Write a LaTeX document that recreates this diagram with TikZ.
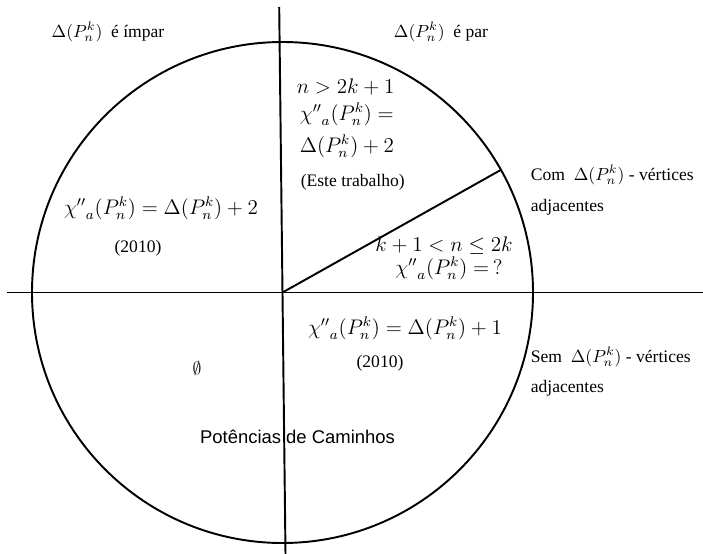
\documentclass[tikz,border=0pt]{standalone}
\usepackage{fontspec}
\setmainfont{Liberation Serif}
\newfontfamily\sansfont{Liberation Sans}
\usepackage{amsmath}
\usepackage{amssymb}
\usepackage{tikz}
\usetikzlibrary{positioning}

\newcommand{\chia}{{\chi''}_a(P_n^k)}
\newcommand{\DP}{\Delta(P_n^k)}

\begin{document}
\begin{tikzpicture}[x=0.02cm,y=-0.02cm,line width=1.1pt]
\useasboundingbox (0,0) rectangle (703,554);

\coordinate (O) at (282.5,292.5);
\coordinate (vtop) at (279.2,7);
\coordinate (vbot) at (285.5,554);
\coordinate (hleft) at (7,292.5);
\coordinate (hright) at (703,292.5);
\coordinate (rim) at (500.7,170);

\draw (O) circle[radius=250.5];
\draw (vtop) -- (vbot);
\draw (hleft) -- (hright);
\draw (O) -- (rim);

% rotulos de fora
\node (impar) at (108,32) {$\DP$\ \ é ímpar};
\node (par) at (441,32) {$\DP$\ \ é par};
\node[anchor=west] (com) at (524,175) {Com\ \ $\DP$ - vértices};
\node[anchor=west] (comadj) at (524,207) {adjacentes};
\node[anchor=west] (sem) at (524,357) {Sem\ \ $\DP$ - vértices};
\node[anchor=west] (semadj) at (524,388) {adjacentes};

% setor de cima, direita
\node[anchor=west,font=\large] (n1) at (290,87) {$n>2k+1$};
\node[anchor=west,font=\large] (c1) at (293,114) {$\chia=$};
\node[anchor=west,font=\large] (d1) at (293,146) {$\DP+2$};
\node[anchor=west] (este) at (294,182) {(Este trabalho)};

% setor pequeno
\node[font=\large] (n2) at (444,246) {$k+1<n\leq 2k$};
\node[font=\large] (c2) at (449,268) {$\chia=\,?$};

% esquerda, cima
\node[font=\large] (c3) at (161,208) {$\chia=\DP+2$};
\node (ano1) at (138,248) {(2010)};

% baixo
\node[font=\large] (c4) at (405,328) {$\chia=\DP+1$};
\node (ano2) at (380,363) {(2010)};
\node (vazio) at (197,368) {$\emptyset$};
\node[font=\sansfont\fontsize{10.5}{12}\selectfont] (pot) at (297.5,437) {Potências de Caminhos};
\end{tikzpicture}
\end{document}
